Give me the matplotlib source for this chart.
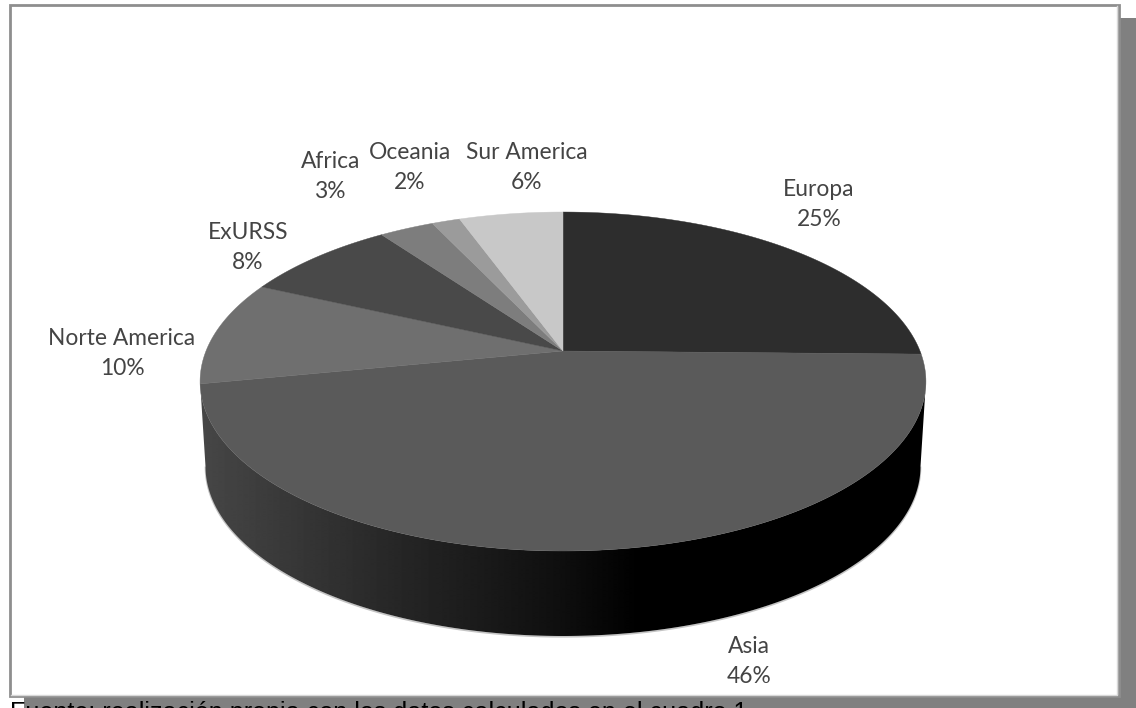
import numpy as np
import matplotlib
matplotlib.use("Agg")
import matplotlib.pyplot as plt
from matplotlib.patches import Rectangle, Polygon

# ---- data (clockwise from 12 o'clock)
regions = ["Europa", "Asia", "Norte America", "ExURSS", "Africa", "Oceania", "Sur America"]
shares = [25.3, 46.6, 10.0, 8.2, 2.9, 1.5, 5.5]
shown_pct = ["25%", "46%", "10%", "8%", "3%", "2%", "6%"]
greys = ["#2d2d2d", "#5a5a5a", "#6f6f6f", "#494949", "#7d7d7d", "#9b9b9b", "#c8c8c8"]
label_x = [819, 749, 122, 248, 331, 410, 527]
label_y = [204.5, 661.5, 353.5, 247.5, 176.5, 167.5, 167.5]
footer = "Fuente: realización propia con los datos calculados en el cuadro 1"

# ---- geometry of the tilted pie (figure pixels)
W, H = 1136, 708
CX, CY = 563.0, 351.0
A, B, K = 357.0, 164.0, 0.18
DEPTH = 85.0


def project(theta, r=1.0, dy=0.0, scale=1.0):
    """Map a clockwise angle on the unit disc to the tilted view."""
    u, v = r * np.sin(theta), r * np.cos(theta)
    w = 1 + K * v
    return CX + scale * A * u / w, CY + dy + B * (-v) / w


fig = plt.figure(figsize=(W / 100, H / 100), dpi=100, facecolor="white")
ax = fig.add_axes([0, 0, 1, 1])
ax.set_xlim(0, W)
ax.set_ylim(H, 0)
ax.axis("off")

# drop shadow and frame
ax.add_patch(Rectangle((24, 18), W - 24, H - 18, fc="#808080", ec="none", zorder=0))
ax.add_patch(Rectangle((9.5, 5), 1109, 691, fc="white", ec="#8e8e8e", lw=2, zorder=1))
ax.plot([11, 1117, 1117], [694.5, 694.5, 6], color="#d8d8d8", lw=1, zorder=1.1)
ax.add_patch(Rectangle((0, 698), 24, 10, fc="white", ec="none", zorder=0.5))

# side wall, shaded from left to right
t_wall = np.radians(np.linspace(100.4, 259.6, 400))
xt, yt = project(t_wall)
xb, yb = project(t_wall[::-1], dy=DEPTH, scale=0.985)
wall = Polygon(np.c_[np.r_[xt, xb], np.r_[yt, yb]], closed=True, fc="none", ec="none",
               transform=ax.transData, zorder=2)
ax.add_patch(wall)
xs = np.linspace(190, 940, 751)
shade = np.interp(xs, [205, 400, 560, 640, 940], [70, 38, 15, 0, 0])
img = ax.imshow(shade[None, :], extent=[190, 940, 650, 340], cmap="gray", vmin=0, vmax=255,
                aspect="auto", zorder=2, interpolation="bilinear")
img.set_clip_path(wall)
ax.set_xlim(0, W)
ax.set_ylim(H, 0)
ax.plot(xb, yb + 0.8, color="#c4c4c4", lw=1.2, zorder=1.8)

# top face
edges = np.cumsum([0] + shares) / sum(shares) * 2 * np.pi
for start, stop, col in zip(edges[:-1], edges[1:], greys):
    t = np.linspace(start, stop, 200)
    x, y = project(t)
    ax.fill(np.r_[CX, x], np.r_[CY, y], fc=col, ec=col, lw=0.3, zorder=3)

# labels
for name, pct, lx, ly in zip(regions, shown_pct, label_x, label_y):
    ax.text(lx, ly, f"{name}\n{pct}", ha="center", va="center", family="Lato",
            fontsize=16.4, color="#444444", linespacing=1.55, zorder=5)

# source line, cut by the lower edge of the picture as in the original
ax.text(10, 720, footer, ha="left", va="baseline", family="Liberation Sans",
        fontsize=18.05, color="black", zorder=6, clip_on=False)

fig.savefig("out.png", dpi=100, facecolor="white")
